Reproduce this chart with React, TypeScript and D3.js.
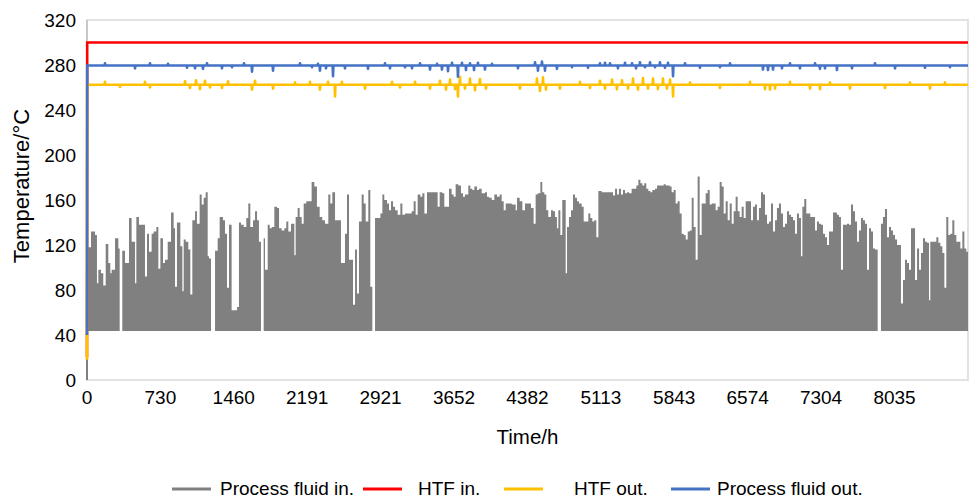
import React from 'react';
import * as d3 from 'd3';

const xTicks = [0, 730, 1460, 2191, 2921, 3652, 4382, 5113, 5843, 6574, 7304, 8035];
const yTicks = [0, 40, 80, 120, 160, 200, 240, 280, 320];
const seriesNames = ['Process fluid in.', 'HTF in.', 'HTF out.', 'Process fluid out.'];
const seriesColors = ['#808080', '#ff0000', '#ffc000', '#4472c4'];
const xMax = 8766;

// Process fluid in: daily peak envelope [hour, °C], base of daily cycle
const processInStart = 0;
const processInBase = 43.5;
const processInPeaks: [number, number][] = [
  [0,118],[40,132],[80,129],[99,86],[113,98],[139,95],[162,84],[186,121],[212,104],[232,95],[245,98],[279,126],[312,117],[325,43.5],[351,115],[378,104],[418,144],[444,123],[478,86],[491,145],[517,138],[577,92],[597,130],[617,114],[643,130],[663,132],[690,136],[710,99],[730,126],[756,104],[776,107],[803,123],[836,149],[862,135],[876,83],[895,140],[929,119],[949,79],[962,125],[982,123],[1008,116],[1028,76],[1048,142],[1075,150],[1094,139],[1121,165],[1141,156],[1161,162],[1181,167],[1201,110],[1214,108],[1234,43.5],[1274,115],[1300,126],[1320,145],[1353,142],[1373,130],[1393,82],[1413,138],[1439,62],[1493,65],[1512,140],[1532,138],[1559,136],[1585,144],[1605,157],[1625,136],[1652,142],[1672,150],[1692,142],[1711,123],[1731,43.5],[1758,126],[1771,98],[1798,138],[1818,135],[1838,136],[1864,154],[1891,153],[1911,135],[1937,133],[1964,135],[1983,141],[2003,132],[2030,139],[2063,111],[2076,145],[2096,153],[2116,145],[2136,139],[2156,157],[2182,159],
  [2235,176],[2262,172],[2288,154],[2315,145],[2341,142],[2368,139],[2401,165],[2421,157],[2441,167],[2468,142],[2527,104],[2567,130],[2587,165],[2607,107],[2647,67],[2667,116],[2686,77],[2706,141],[2733,165],[2753,157],[2773,141],[2799,169],[2819,83],[2839,43.5],[2866,144],[2919,148],[2939,165],[2958,160],[2985,157],[3005,151],[3025,159],[3045,154],[3065,151],[3091,147],[3118,157],[3138,147],[3164,148],[3230,150],[3250,159],[3270,147],[3290,165],[3317,163],[3337,166],[3357,148],[3383,167],[3489,154],[3509,167],[3536,166],[3555,154],[3602,170],[3628,165],[3648,163],[3668,174],[3695,173],[3721,166],[3741,163],[3761,165],[3794,173],[3814,170],[3834,169],[3854,172],[3881,169],[3900,170],[3927,166],[3960,167],[3980,163],[4000,162],[4027,160],[4053,165],[4080,163],[4106,165],[4126,159],[4146,151],[4166,157],[4226,156],[4265,151],[4279,162],[4305,159],[4332,151],[4358,157],
  [4418,153],[4444,139],[4464,165],[4484,166],[4511,176],[4530,167],[4550,165],[4570,151],[4590,145],[4617,151],[4637,150],[4657,145],[4676,135],[4690,151],[4710,129],[4729,160],[4763,95],[4776,136],[4796,145],[4816,151],[4836,165],[4856,162],[4875,159],[4895,157],[4922,154],[4942,141],[4988,148],[5008,144],[5028,141],[5048,142],[5068,127],[5088,168],[5121,167],[5141,167],[5187,167],[5207,167],[5234,164],[5254,170],[5274,165],[5293,170],[5313,165],[5333,169],[5353,166],[5373,167],[5393,166],[5419,170],[5439,170],[5466,173],[5486,178],[5506,175],[5526,173],[5545,175],[5565,170],[5585,168],[5605,167],[5625,169],[5652,170],[5672,173],[5718,173],[5738,174],[5758,173],[5778,173],[5798,172],[5817,167],[5837,169],[5857,157],[5877,159],[5897,148],[5917,130],[5937,129],[5957,125],[5977,132],[5997,133],[6017,162],[6036,136],[6056,107],[6076,181],[6096,129],[6116,157],[6156,166],[6176,169],[6196,156],[6216,157],[6255,151],[6275,154],[6295,176],[6315,172],[6335,148],[6355,159],[6375,142],[6395,157],[6415,139],[6434,150],[6454,163],[6474,150],[6494,145],[6514,154],[6534,144],[6554,159],
  [6607,142],[6627,154],[6647,156],[6666,142],[6686,153],[6706,167],[6726,165],[6746,147],[6766,139],[6786,141],[6806,157],[6826,132],[6846,142],[6865,153],[6885,157],[6905,148],[6925,136],[6945,139],[6965,150],[6985,147],[7005,145],[7025,142],[7045,130],[7064,148],[7084,144],[7104,110],[7118,154],[7137,161],[7157,148],[7197,145],[7244,133],[7263,141],[7283,139],[7303,138],[7323,130],[7343,127],[7363,120],[7383,132],[7423,149],[7462,147],[7482,145],[7502,98],[7522,138],[7562,139],[7582,138],[7602,156],[7622,150],[7642,141],[7662,123],[7681,133],[7701,144],[7721,142],[7741,139],[7761,98],[7781,135],[7801,132],[7821,117],[7841,116],[7867,43.5],[7900,139],[7920,145],[7940,152],[7960,127],[7980,136],[8000,133],[8020,129],[8040,125],[8060,120],[8099,68],[8119,89],[8139,107],[8159,104],[8179,98],[8199,135],[8239,89],[8259,117],[8279,98],[8298,113],[8318,126],[8338,123],[8358,122],[8378,71],[8391,123],[8451,127],[8471,122],[8491,119],[8511,113],[8531,82],[8550,145],[8570,129],[8590,130],[8610,142],[8630,129],[8650,123],[8690,117],[8710,132],[8730,117],[8749,114],[8766,114]
];

// HTF in
const htfIn: [number, number][] = [[0, 20], [2, 300], [8766, 300]];

// HTF out: start value, steady level and excursions [hour, °C]
const htfOutStart = 18;
const htfOutLevel = 262.5;
const htfOutSpikes: [number, number][] = [
  [179,265],[328,260.5],[577,265],[627,260],[975,265.5],[1025,259.5],[1085,266.5],[1124,258.5],[1174,266],[1224,260],[1343,259.5],[1403,265.5],[1642,258],[1672,266],[1851,259],[2070,264.5],[2219,265],[2318,258],[2398,265],[2468,252],[2537,265],[2766,259],[3035,265],[3114,260],[3264,265],[3413,259],[3512,266],[3572,258],[3612,267],[3662,258.5],[3691,252],[3711,269.5],[3761,259],[3811,268],[3861,257.5],[3910,267.5],[3970,259],[4308,259],[4477,268],[4507,257],[4537,269],[4567,258],[4706,259],[4905,265],[5005,259.5],[5104,266],[5154,259],[5224,267],[5273,258.5],[5323,266.5],[5383,259],[5433,268],[5482,258],[5532,268.5],[5582,259],[5632,268],[5681,258.5],[5731,268],[5771,259],[5801,267],[5831,252],[6000,264.5],[6298,259.5],[6597,265],[6746,258.5],[6796,258],[6846,259],[6995,265],[7194,259],[7293,258.5],[7393,264.5],[7592,259],[7940,259.5],[8189,264.5],[8388,259],[8537,264.5]
];

// Process fluid out
const processOutStart = 40;
const processOutLevel = 279.5;
const processOutSpikes: [number, number][] = [
  [179,281.5],[478,277],[627,281.5],[806,281],[995,277.5],[1075,277],[1154,276.5],[1194,281.5],[1343,277],[1443,278],[1562,281.5],[1642,274],[1851,275],[2119,281.5],[2239,278],[2298,281],[2318,275],[2378,277],[2448,270],[2567,277],[2796,276.5],[2965,281.5],[3015,277],[3164,278],[3234,277],[3313,281.5],[3413,276],[3483,281],[3532,276],[3592,274.5],[3632,282],[3691,269.5],[3731,282],[3771,275.5],[3811,281.5],[3851,275.5],[3890,282],[3960,276],[4030,281],[4288,277],[4458,282.5],[4487,275],[4527,283],[4557,275],[4676,276.5],[4826,278],[4985,277.5],[5104,281.5],[5154,282],[5204,281.5],[5283,277],[5353,282],[5423,281.5],[5463,277],[5502,282.5],[5552,278],[5602,282.5],[5652,278],[5701,282.5],[5751,277.5],[5781,282],[5831,270],[5950,281.5],[6099,277.5],[6298,278],[6398,281.5],[6726,276],[6776,275.5],[6826,276],[6915,277],[6995,281.5],[7094,277],[7244,281.5],[7293,276.5],[7343,277],[7462,275.5],[7612,277],[7841,281.5],[8040,277],[8338,277.5],[8587,278]
];

function buildLine(start: number, level: number, spikes: [number, number][]): [number, number][] {
  const pts: [number, number][] = [[0, start], [2, level]];
  spikes.forEach(([h, v]) => {
    pts.push([h - 4, level], [h, v], [h + 4, level]);
  });
  pts.push([xMax, level]);
  return pts;
}

const W = 971, H = 500;
const left = 87, right = 968, top = 20, bottom = 380;
const FONT = '"Liberation Sans", Arial, Helvetica, sans-serif';

export default function App() {
  const x = d3.scaleLinear().domain([0, xMax]).range([left, right]);
  const y = d3.scaleLinear().domain([0, 320]).range([bottom, top]);

  const area = d3.area<[number, number]>()
    .x(d => x(d[0]))
    .y0(y(processInBase))
    .y1(d => y(d[1]))
    .curve(d3.curveStepAfter);

  const line = d3.line<[number, number]>().x(d => x(d[0])).y(d => y(d[1]));

  const htfOut = buildLine(htfOutStart, htfOutLevel, htfOutSpikes);
  const procOut = buildLine(processOutStart, processOutLevel, processOutSpikes);

  const legendItems = [
    { lx: 172, tx: 220 },
    { lx: 363, tx: 418 },
    { lx: 504, tx: 574 },
    { lx: 671, tx: 717 },
  ];

  return (
    <svg width={W} height={H} style={{ position: 'absolute', left: 0, top: 0, background: '#fff' }} fontFamily={FONT}>
      <rect x={0} y={0} width={W} height={H} fill="#fff" />
      {/* plot frame */}
      <rect x={left} y={top} width={right - left} height={bottom - top} fill="none" stroke="#d9d9d9" strokeWidth={1.5} />
      <line x1={left} x2={left} y1={top} y2={bottom} stroke="#bfbfbf" strokeWidth={1.5} />

      {/* Process fluid in */}
      <line x1={x(0)} x2={x(0)} y1={y(processInStart)} y2={y(processInBase)} stroke={seriesColors[0]} strokeWidth={2} />
      <path d={area(processInPeaks) || ''} fill={seriesColors[0]} />

      {/* HTF in */}
      <path d={line(htfIn) || ''} fill="none" stroke={seriesColors[1]} strokeWidth={2.6} />
      {/* HTF out */}
      <path d={line(htfOut) || ''} fill="none" stroke={seriesColors[2]} strokeWidth={2.6} strokeLinejoin="round" />
      {/* Process fluid out */}
      <path d={line(procOut) || ''} fill="none" stroke={seriesColors[3]} strokeWidth={2.6} strokeLinejoin="round" />

      {/* y ticks */}
      {yTicks.map(t => (
        <text key={t} x={76} y={y(t)} dy="0.35em" textAnchor="end" fontSize={19} fill="#000">{t}</text>
      ))}
      {/* x ticks */}
      {xTicks.map(t => (
        <text key={t} x={x(t)} y={404} textAnchor="middle" fontSize={19} fill="#000">{t}</text>
      ))}

      <text x={(left + right) / 2} y={444} textAnchor="middle" fontSize={20.5} fill="#000">Time/h</text>
      <text transform={`translate(29, 186) rotate(-90)`} textAnchor="middle" fontSize={22} fill="#000">Temperature/°C</text>

      {/* legend */}
      {legendItems.map((it, i) => (
        <g key={i}>
          <line x1={it.lx} x2={it.lx + 39} y1={489} y2={489} stroke={seriesColors[i]} strokeWidth={3} />
          <text x={it.tx} y={495} fontSize={19} fill="#000">{seriesNames[i]}</text>
        </g>
      ))}
    </svg>
  );
}
